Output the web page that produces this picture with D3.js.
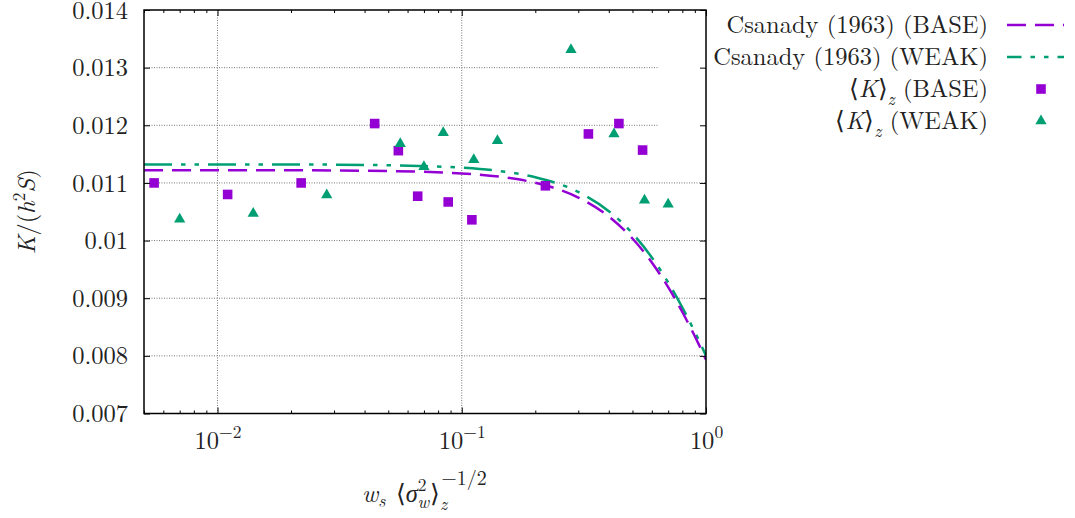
<!DOCTYPE html>
<html>
<head>
<meta charset="utf-8">
<script src="https://cdn.jsdelivr.net/npm/d3@7"></script>
<style>
  body { margin: 0; background: #fff; }
</style>
</head>
<body>
<div id="chart"></div>
<script>
// measured points, <K>_z
const baseX = [0.0055, 0.011, 0.022, 0.044, 0.055, 0.066, 0.088, 0.11, 0.22, 0.33, 0.44, 0.55];
const baseK = [0.01100, 0.01080, 0.01100, 0.01203, 0.01156, 0.01077, 0.01067, 0.01036, 0.01095, 0.01185, 0.01203, 0.01157];
const weakX = [0.007, 0.014, 0.028, 0.056, 0.07, 0.084, 0.112, 0.14, 0.28, 0.42, 0.56, 0.7];
const weakK = [0.01037, 0.01047, 0.01079, 0.01168, 0.01128, 0.01187, 0.01140, 0.01173, 0.01331, 0.01185, 0.01070, 0.01063];

// Csanady (1963) curves
const curveX = [0.005, 0.01, 0.02, 0.05, 0.1, 0.15, 0.2, 0.3, 0.4, 0.5, 0.6, 0.7, 0.8, 0.9, 1.0];
const csanadyBase = [0.01122, 0.01122, 0.01122, 0.011206, 0.011164, 0.011096, 0.011002, 0.010747, 0.010418, 0.010036, 0.009621, 0.009192, 0.008761, 0.008340, 0.007934];
const csanadyWeak = [0.01132, 0.01132, 0.01132, 0.011306, 0.011264, 0.011195, 0.011100, 0.010843, 0.010510, 0.010125, 0.009707, 0.009274, 0.008839, 0.008414, 0.008004];

const yTicks = [0.007, 0.008, 0.009, 0.010, 0.011, 0.012, 0.013, 0.014];
const yTickLabels = ["0.007", "0.008", "0.009", "0.01", "0.011", "0.012", "0.013", "0.014"];
const xTicks = [0.01, 0.1, 1];
const xTickExps = ["−2", "−1", "0"];

const width = 1075;
const height = 518;
const plot = { left: 144, right: 706, top: 10, bottom: 413.5 };
const purple = "#9400d3";
const green = "#009e73";
const font = "'Latin Modern Roman', 'CMU Serif', serif";
const fontSize = 24.5;
const smallSize = 17.5;
const ink = "#222";

const svg = d3.select("#chart").append("svg")
  .attr("width", width)
  .attr("height", height)
  .attr("font-family", font)
  .attr("font-size", fontSize);

const x = d3.scaleLog().domain([0.005, 1]).range([plot.left, plot.right]);
const y = d3.scaleLinear().domain([0.007, 0.014]).range([plot.bottom, plot.top]);

// grid (the key area hides the upper horizontal lines on the right)
const grid = svg.append("g")
  .attr("stroke", "#777")
  .attr("stroke-width", 1)
  .attr("stroke-dasharray", "1,1.5");
grid.selectAll("line.h")
  .data(yTicks.filter((d) => d > 0.007 && d < 0.014))
  .enter().append("line")
  .attr("x1", plot.left)
  .attr("x2", (d) => (y(d) < 150 ? 658 : plot.right))
  .attr("y1", (d) => y(d))
  .attr("y2", (d) => y(d));
grid.selectAll("line.v")
  .data(xTicks.filter((d) => d < 1))
  .enter().append("line")
  .attr("x1", (d) => x(d))
  .attr("x2", (d) => x(d))
  .attr("y1", plot.top)
  .attr("y2", plot.bottom);

svg.append("clipPath").attr("id", "clip")
  .append("rect")
  .attr("x", plot.left).attr("y", plot.top)
  .attr("width", plot.right - plot.left)
  .attr("height", plot.bottom - plot.top);

const line = d3.line()
  .x((d) => x(d[0]))
  .y((d) => y(d[1]))
  .curve(d3.curveMonotoneX);

const curves = svg.append("g").attr("clip-path", "url(#clip)").attr("fill", "none").attr("stroke-width", 2.5);
curves.append("path")
  .attr("d", line(d3.zip(curveX, csanadyWeak)))
  .attr("stroke", green)
  .attr("stroke-dasharray", "28,9,4.5,9,4.5,9");
curves.append("path")
  .attr("d", line(d3.zip(curveX, csanadyBase)))
  .attr("stroke", purple)
  .attr("stroke-dasharray", "19,9");

const square = d3.symbol().type(d3.symbolSquare).size(92);
const triangle = d3.symbol().type(d3.symbolTriangle).size(55);

svg.append("g").selectAll("path")
  .data(d3.zip(baseX, baseK))
  .enter().append("path")
  .attr("d", square)
  .attr("fill", purple)
  .attr("transform", (d) => `translate(${x(d[0])},${y(d[1])})`);

svg.append("g").selectAll("path")
  .data(d3.zip(weakX, weakK))
  .enter().append("path")
  .attr("d", triangle)
  .attr("fill", green)
  .attr("transform", (d) => `translate(${x(d[0])},${y(d[1])})`);

// axes, gnuplot style: ticks inward on all four sides
const minorTicks = [];
[0.001, 0.01, 0.1].forEach((p) => {
  for (let k = 2; k <= 9; k++) {
    const v = p * k;
    if (v >= 0.005 && v < 1) minorTicks.push(v);
  }
});

function styleAxis(g) {
  g.attr("font-family", font).attr("font-size", fontSize);
  g.select(".domain").remove();
  g.selectAll("line").attr("stroke", "#000").attr("stroke-width", 1);
}

svg.append("g")
  .attr("transform", `translate(${plot.left},0)`)
  .call(d3.axisLeft(y).tickValues(yTicks).tickSize(-6).tickPadding(16)
    .tickFormat((d, i) => yTickLabels[i]))
  .call(styleAxis)
  .call((g) => g.selectAll("text").attr("fill", ink).attr("dy", "0.33em"));

svg.append("g")
  .attr("transform", `translate(${plot.right},0)`)
  .call(d3.axisRight(y).tickValues(yTicks).tickSize(-6).tickFormat(""))
  .call(styleAxis);

const xb = svg.append("g")
  .attr("transform", `translate(0,${plot.bottom})`)
  .call(d3.axisBottom(x).tickValues(xTicks).tickSize(-6).tickFormat(""))
  .call(styleAxis);
xb.selectAll(".tick text")
  .attr("y", 35)
  .attr("dy", 0)
  .attr("fill", ink)
  .each(function (d, i) {
    const t = d3.select(this);
    t.append("tspan").text("10");
    t.append("tspan").attr("dy", -11).attr("font-size", smallSize).text(xTickExps[i]);
  });

svg.append("g")
  .attr("transform", `translate(0,${plot.bottom})`)
  .call(d3.axisBottom(x).tickValues(minorTicks).tickSize(-3).tickFormat(""))
  .call(styleAxis);
svg.append("g")
  .attr("transform", `translate(0,${plot.top})`)
  .call(d3.axisTop(x).tickValues(xTicks).tickSize(-6).tickFormat(""))
  .call(styleAxis);
svg.append("g")
  .attr("transform", `translate(0,${plot.top})`)
  .call(d3.axisTop(x).tickValues(minorTicks).tickSize(-3).tickFormat(""))
  .call(styleAxis);

svg.append("rect")
  .attr("x", plot.left).attr("y", plot.top)
  .attr("width", plot.right - plot.left)
  .attr("height", plot.bottom - plot.top)
  .attr("fill", "none")
  .attr("stroke", "#000")
  .attr("stroke-width", 1.5);

// y axis label: K/(h^2 S)
const yl = svg.append("text")
  .attr("transform", `translate(35,${(plot.top + plot.bottom) / 2}) rotate(-90)`)
  .attr("text-anchor", "middle")
  .attr("fill", ink);
yl.append("tspan").attr("font-style", "italic").text("K");
yl.append("tspan").text("/(");
yl.append("tspan").attr("font-style", "italic").text("h");
yl.append("tspan").attr("dy", -10).attr("font-size", smallSize).text("2");
yl.append("tspan").attr("dy", 10).attr("font-style", "italic").text("S");
yl.append("tspan").text(")");

// x axis label: w_s <sigma_w^2>_z^(-1/2)
const xl = svg.append("text")
  .attr("x", 362)
  .attr("y", 502)
  .attr("fill", ink);
xl.append("tspan").attr("font-style", "italic").text("w");
xl.append("tspan").attr("dy", 5).attr("font-size", smallSize).attr("font-style", "italic").text("s");
xl.append("tspan").attr("dx", 2).attr("dy", -5).text(" ⟨");
xl.append("tspan").attr("font-style", "italic").text("σ");
xl.append("tspan").attr("dy", -11).attr("font-size", smallSize).text("2");
xl.append("tspan").attr("dx", -9).attr("dy", 17).attr("font-size", smallSize).attr("font-style", "italic").text("w");
xl.append("tspan").attr("dx", 1).attr("dy", -6).text("⟩");
xl.append("tspan").attr("dy", 8).attr("font-size", smallSize).attr("font-style", "italic").text("z");
xl.append("tspan").attr("dx", -6).attr("dy", -25).attr("font-size", 20).text("−1/2");

// legend
const legendRows = [
  { name: "Csanady (1963) (BASE)", kind: "line", color: purple, dash: "19,9", offset: 0 },
  { name: "Csanady (1963) (WEAK)", kind: "line", color: green, dash: "28,9,4.5,9,4.5,9", offset: 50.5 },
  { name: "(BASE)", kind: "square", color: purple, mean: true },
  { name: "(WEAK)", kind: "triangle", color: green, mean: true }
];
const legend = svg.append("g");
legendRows.forEach((r, i) => {
  const cy = 25 + i * 32;
  const t = legend.append("text")
    .attr("x", 988)
    .attr("y", cy + 8)
    .attr("text-anchor", "end")
    .attr("fill", ink);
  if (r.mean) {
    t.append("tspan").text("⟨");
    t.append("tspan").attr("font-style", "italic").text("K");
    t.append("tspan").text("⟩");
    t.append("tspan").attr("dy", 8).attr("font-size", smallSize).attr("font-style", "italic").text("z");
    t.append("tspan").attr("dy", -8).text(" " + r.name);
  } else {
    t.text(r.name);
  }
  if (r.kind === "line") {
    legend.append("line")
      .attr("x1", 1007).attr("x2", 1064)
      .attr("y1", cy).attr("y2", cy)
      .attr("stroke", r.color)
      .attr("stroke-width", 2.5)
      .attr("stroke-dasharray", r.dash)
      .attr("stroke-dashoffset", -r.offset);
  } else {
    legend.append("path")
      .attr("d", r.kind === "square" ? square : triangle)
      .attr("fill", r.color)
      .attr("transform", `translate(1041,${cy})`);
  }
});
</script>
</body>
</html>
